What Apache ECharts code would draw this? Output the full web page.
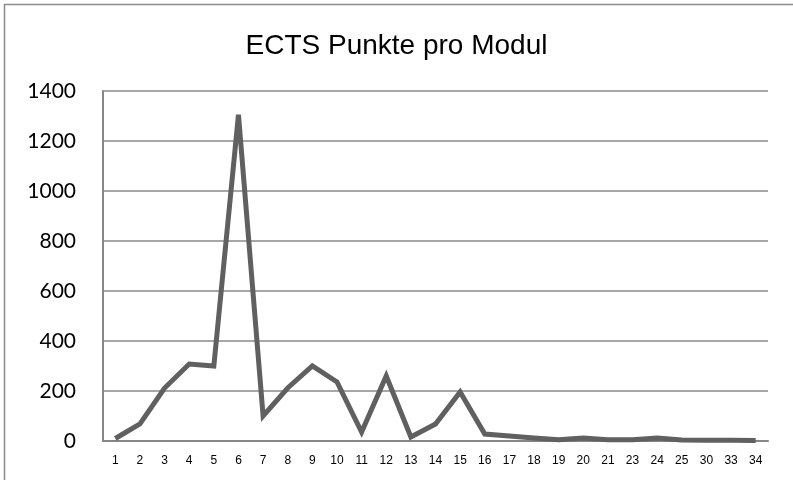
<!DOCTYPE html>
<html>
<head>
<meta charset="utf-8">
<script src="https://cdn.jsdelivr.net/npm/echarts@6/dist/echarts.min.js"></script>
<style>
  html, body { margin: 0; padding: 0; background: #fff; }
  #chart { width: 793px; height: 480px; }
</style>
</head>
<body>
<div id="chart"></div>
<script>
// Module (x-Achse)
var modules = ['1', '2', '3', '4', '5', '6', '7', '8', '9', '10', '11', '12', '13', '14',
    '15', '16', '17', '18', '19', '20', '21', '23', '24', '25', '30', '33', '34'];
// ECTS Punkte je Modul
var points = [10, 68, 212, 308, 300, 1305, 100, 212, 300, 236, 36, 260, 16, 68,
    196, 28, 20, 12, 5, 12, 5, 5, 12, 4, 3, 3, 2];
var yTicks = [0, 200, 400, 600, 800, 1000, 1200, 1400];

var chart = echarts.init(document.getElementById('chart'), null, {renderer: 'canvas'});

var option = {
    animation: false,
    backgroundColor: '#fff',
    title: {
        text: 'ECTS Punkte pro Modul',
        left: 'center',
        top: 27,
        textStyle: {
            fontFamily: '"Liberation Sans", Arial, sans-serif',
            fontSize: 28,
            fontWeight: 'normal',
            color: '#000'
        }
    },
    graphic: [{
        type: 'rect',
        shape: {x: 4.5, y: 4.5, width: 800, height: 500},
        style: {fill: null, stroke: '#8c8c8c', lineWidth: 1.5},
        silent: true
    }],
    grid: {
        left: 103,
        right: 25,
        top: 91,
        bottom: 39
    },
    xAxis: {
        type: 'category',
        data: modules,
        boundaryGap: true,
        axisLine: {lineStyle: {color: '#868686', width: 2}},
        axisTick: {show: false},
        axisLabel: {
            interval: 0,
            margin: 14,
            fontFamily: '"Liberation Sans", Arial, sans-serif',
            fontSize: 12,
            color: '#000'
        }
    },
    yAxis: {
        type: 'value',
        min: yTicks[0],
        max: yTicks[yTicks.length - 1],
        interval: 200,
        axisLine: {show: true, lineStyle: {color: '#868686', width: 2}},
        axisTick: {show: false},
        axisLabel: {
            margin: 27,
            formatter: function (v) { return String(v); },
            fontFamily: 'Lato, "Open Sans", sans-serif',
            fontSize: 21,
            color: '#000'
        },
        splitLine: {lineStyle: {color: '#8a8a8a', width: 1.5}}
    },
    series: [{
        name: 'ECTS Punkte',
        type: 'line',
        data: points,
        symbol: 'none',
        lineStyle: {color: '#606060', width: 5, join: 'miter'},
        itemStyle: {color: '#606060'}
    }]
};

chart.setOption(option);
</script>
</body>
</html>
